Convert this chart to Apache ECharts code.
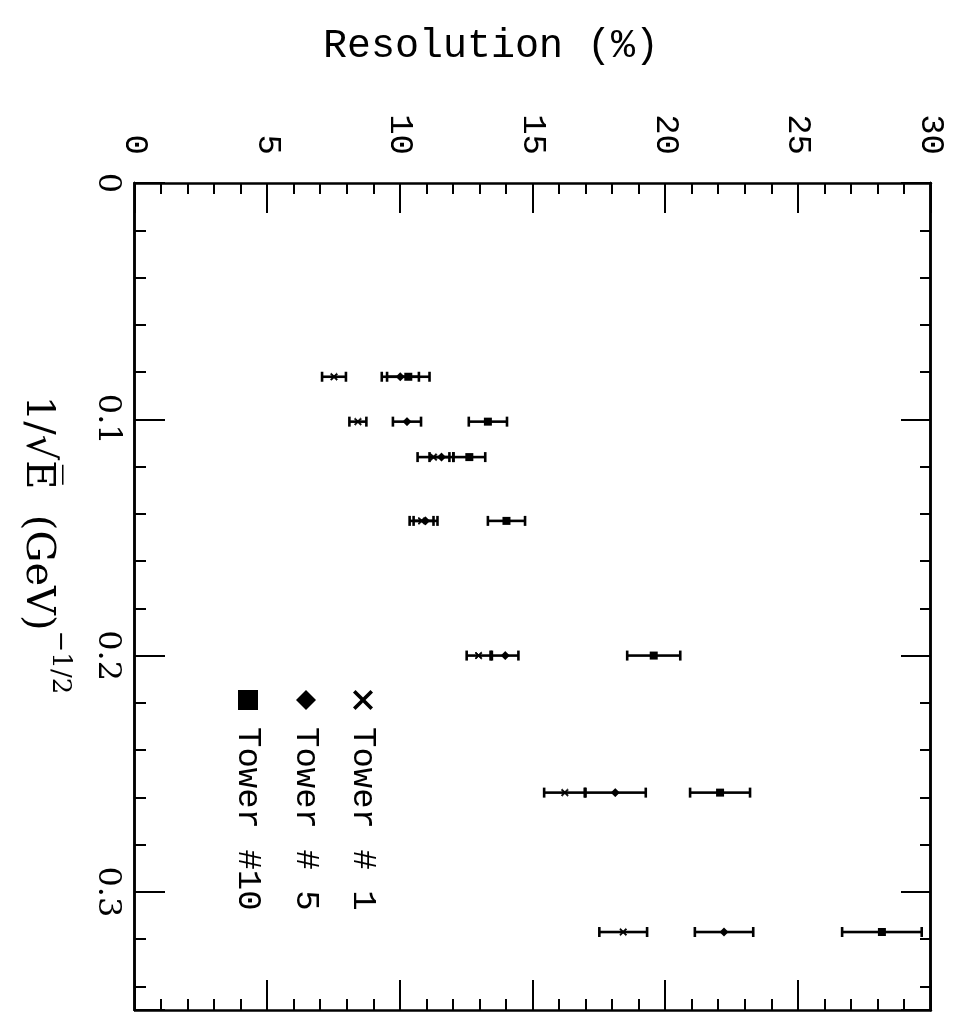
<!DOCTYPE html>
<html>
<head>
<meta charset="utf-8">
<script src="https://cdn.jsdelivr.net/npm/echarts@6/dist/echarts.min.js"></script>
<style>
  html, body { margin: 0; padding: 0; background: #fff; overflow: hidden; width: 967px; height: 1018px; }
  /* The plot is laid out landscape and turned a quarter turn clockwise onto the page */
  #chart { position: absolute; left: 0; top: 0; width: 1018px; height: 967px;
           transform-origin: 0 0; transform: translateX(967px) rotate(90deg); }
</style>
</head>
<body>
<div id="chart"></div>
<script>
// 1/sqrt(E) for each beam energy, (GeV)^-1/2
const invSqrtE = [0.082, 0.101, 0.116, 0.143, 0.200, 0.258, 0.317];

// Energy resolution (%) and its uncertainty for each tower
const tower1Res  = [7.50, 8.40, 11.25, 10.80, 12.95, 16.20, 18.40];
const tower1Err  = [0.45, 0.32, 0.60, 0.45, 0.45, 0.78, 0.90];
const tower5Res  = [10.00, 10.25, 11.55, 10.95, 13.95, 18.10, 22.20];
const tower5Err  = [0.70, 0.53, 0.45, 0.45, 0.50, 1.15, 1.10];
const tower10Res = [10.30, 13.30, 12.60, 14.00, 19.55, 22.05, 28.15];
const tower10Err = [0.80, 0.72, 0.60, 0.70, 1.00, 1.13, 1.50];

const towerNames = ['Tower # 1', 'Tower # 5', 'Tower #10'];

// Labelled tick values on each axis
const xTickValues = [0, 0.1, 0.2, 0.3];
const resTickValues = [0, 5, 10, 15, 20, 25, 30];

const crossPath = 'path://M0,1.3L1.3,0L10,8.7L8.7,10Z M8.7,0L10,1.3L1.3,10L0,8.7Z';
const towerSymbols = [crossPath, 'diamond', 'rect'];
const towerSymbolSizes = [7, 9, 8];
const towerRes = [tower1Res, tower5Res, tower10Res];
const towerErr = [tower1Err, tower5Err, tower10Err];

const chart = echarts.init(document.getElementById('chart'), null, { renderer: 'canvas' });

const black = '#000';
const monoFont = 'Liberation Mono';
const serifFont = 'DejaVu Serif';

function frameLine() {
  return { show: true, onZero: false, lineStyle: { color: black, width: 2.5 } };
}
function ticks(len) {
  return { show: true, inside: true, length: len, lineStyle: { color: black, width: 2 } };
}
function roundTick(v) { return Math.round(v * 1000) / 1000; }

// Vertical error bar with short caps, placed through the axes
function errorBar(params, api) {
  const x = api.value(0), y = api.value(1), e = api.value(2);
  const lo = api.coord([x, y - e]);
  const hi = api.coord([x, y + e]);
  const cap = 5;
  const style = { stroke: black, lineWidth: 2.6 };
  return {
    type: 'group',
    children: [
      { type: 'line', shape: { x1: lo[0], y1: lo[1], x2: hi[0], y2: hi[1] }, style: style },
      { type: 'line', shape: { x1: lo[0] - cap, y1: lo[1], x2: lo[0] + cap, y2: lo[1] }, style: style },
      { type: 'line', shape: { x1: hi[0] - cap, y1: hi[1], x2: hi[0] + cap, y2: hi[1] }, style: style }
    ]
  };
}

const series = [];
towerNames.forEach(function (name, i) {
  series.push({
    name: name + ' error',
    type: 'custom',
    renderItem: errorBar,
    encode: { x: 0, y: 1 },
    data: invSqrtE.map(function (v, k) { return [v, towerRes[i][k], towerErr[i][k]]; }),
    z: 2,
    silent: true
  });
  series.push({
    name: name,
    type: 'scatter',
    symbol: towerSymbols[i],
    symbolSize: towerSymbolSizes[i],
    itemStyle: { color: black, opacity: 1, borderColor: black, borderWidth: i === 0 ? 0.8 : 0 },
    data: invSqrtE.map(function (v, k) { return [v, towerRes[i][k]]; }),
    z: 3,
    silent: true
  });
});

// One legend block per tower, stacked
const legendRowsY = [597, 654, 712];
const legends = towerNames.map(function (name, i) {
  return {
    data: [{ name: name, icon: towerSymbols[i] }],
    orient: 'vertical',
    left: 690,
    top: legendRowsY[i] - 10,
    padding: 0,
    itemWidth: 20,
    itemHeight: 20,
    selectedMode: false,
    itemStyle: { color: black, opacity: 1, borderWidth: 0 },
    textStyle: { fontFamily: monoFont, fontSize: 34, color: black, padding: [0, 0, 0, 12] }
  };
});

const xLabel = {
  show: true, margin: 12, color: black, fontFamily: serifFont, fontSize: 32,
  formatter: function (v) { const r = roundTick(v); return xTickValues.indexOf(r) >= 0 ? String(r) : ''; }
};
const resLabel = {
  show: true, margin: 28, color: black, fontFamily: monoFont, fontSize: 34,
  formatter: function (v) { const r = roundTick(v); return resTickValues.indexOf(r) >= 0 ? String(r) : ''; }
};

const option = {
  backgroundColor: '#fff',
  animation: false,
  grid: { left: 183, right: 8, top: 36, bottom: 135, containLabel: false, outerBoundsMode: 'none' },
  legend: legends,
  xAxis: [
    { type: 'value', position: 'bottom', min: 0, max: 0.35, interval: 0.1,
      axisLine: frameLine(), axisTick: ticks(30), axisLabel: xLabel, splitLine: { show: false } },
    { type: 'value', position: 'bottom', min: 0, max: 0.35, interval: 0.02,
      axisLine: frameLine(), axisTick: ticks(11), axisLabel: { show: false }, splitLine: { show: false } },
    { type: 'value', position: 'top', min: 0, max: 0.35, interval: 0.1,
      axisLine: frameLine(), axisTick: ticks(30), axisLabel: { show: false }, splitLine: { show: false } },
    { type: 'value', position: 'top', min: 0, max: 0.35, interval: 0.02,
      axisLine: frameLine(), axisTick: ticks(11), axisLabel: { show: false }, splitLine: { show: false } }
  ],
  yAxis: [
    { type: 'value', position: 'left', min: 0, max: 30, interval: 5,
      axisLine: frameLine(), axisTick: ticks(30), axisLabel: resLabel, splitLine: { show: false },
      minorTick: { show: true, splitNumber: 5, length: 11, lineStyle: { color: black, width: 2 } },
      minorSplitLine: { show: false } },
    { type: 'value', position: 'right', min: 0, max: 30, interval: 5,
      axisLine: frameLine(), axisTick: ticks(30), axisLabel: { show: false }, splitLine: { show: false },
      minorTick: { show: true, splitNumber: 5, length: 11, lineStyle: { color: black, width: 2 } },
      minorSplitLine: { show: false } }
  ],
  graphic: [
    { type: 'text', x: 46, y: 476, rotation: Math.PI / 2,
      style: { text: 'Resolution (%)', font: '40px "Liberation Mono"', fill: black,
               align: 'center', verticalAlign: 'middle' } },
    { type: 'text', x: 545, y: 922,
      style: {
        text: '{m|1/\u221AE\u0305  (GeV)}{s|\u22121/2}',
        align: 'center', verticalAlign: 'middle',
        rich: {
          m: { fontFamily: serifFont, fontSize: 40, fill: black, color: black, verticalAlign: 'bottom', lineHeight: 56 },
          s: { fontFamily: serifFont, fontSize: 26, fill: black, color: black, verticalAlign: 'top', lineHeight: 30 }
        }
      } }
  ],
  series: series
};

chart.setOption(option);
</script>
</body>
</html>
